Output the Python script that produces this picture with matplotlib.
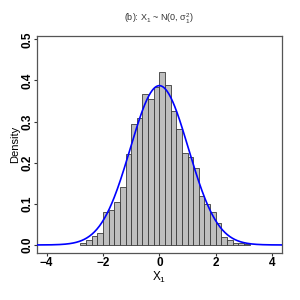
import numpy as np
import matplotlib
matplotlib.use("Agg")
import matplotlib.pyplot as plt

# histogram data (bin width 0.2)
bin_left = [-2.8, -2.6, -2.4, -2.2, -2.0, -1.8, -1.6, -1.4, -1.2, -1.0,
            -0.8, -0.6, -0.4, -0.2, 0.0, 0.2, 0.4, 0.6, 0.8, 1.0,
            1.2, 1.4, 1.6, 1.8, 2.0, 2.2, 2.4, 2.6, 2.8, 3.0]
density = [0.006, 0.013, 0.0225, 0.029, 0.080, 0.0855, 0.104, 0.142, 0.221, 0.294,
           0.3075, 0.368, 0.356, 0.384, 0.420, 0.390, 0.326, 0.283, 0.223, 0.2145,
           0.186, 0.118, 0.100, 0.080, 0.053, 0.020, 0.013, 0.006, 0.004, 0.002]
bin_width = 0.2
sigma1 = 1.03

x_ticks = [-4, -2, 0, 2, 4]
y_ticks = [0.0, 0.1, 0.2, 0.3, 0.4, 0.5]

plt.rcParams['font.family'] = ['Liberation Sans', 'DejaVu Sans']
plt.rcParams['mathtext.default'] = 'regular'

fig = plt.figure(figsize=(3, 3), dpi=100)
ax = fig.add_axes([0.1233, 0.1567, 0.8167, 0.7233])

ax.bar(bin_left, density, width=bin_width, align='edge',
       color='#BEBEBE', edgecolor='#3a3a3a', linewidth=0.6, zorder=2)

# normal density curve
xs = np.linspace(-4.4, 4.4, 400)
ys = np.exp(-xs**2 / (2 * sigma1**2)) / (sigma1 * np.sqrt(2 * np.pi))
ax.plot(xs, ys, color='#0000FF', linewidth=1.2, zorder=3)

ax.set_xlim(-4.34, 4.35)
ax.set_ylim(-0.0195, 0.508)
ax.set_xticks(x_ticks)
ax.set_yticks(y_ticks)
ax.set_xticklabels(['\u22124', '\u22122', '0', '2', '4'], fontweight='bold', fontsize=8.5)
ax.set_yticklabels(['0.0', '0.1', '0.2', '0.3', '0.4', '0.5'], fontweight='bold',
                   fontsize=8.5, rotation=90, va='center')
ax.tick_params(direction='out', length=2.3, width=0.8, color='#333333', pad=0.5)

for s in ax.spines.values():
    s.set_color('#555555')
    s.set_linewidth(0.9)

ax.set_xlabel('X$_1$', fontsize=8.5)
ax.xaxis.set_label_coords(0.5, -0.078)
ax.set_ylabel('Density', fontsize=8)
ax.yaxis.set_label_coords(-0.069, 0.5)
fig.text(0.53, 0.937, r'(b): X$_1$ ~ N(0, $\sigma_1^2$)', fontsize=6.5,
         ha='center', va='center', color='#333333')

fig.savefig('out.png', dpi=100)
